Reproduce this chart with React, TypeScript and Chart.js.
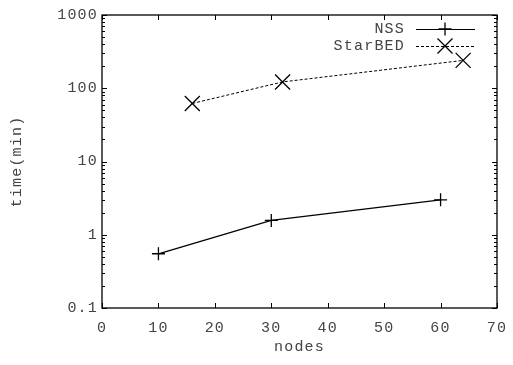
import React, { useEffect, useRef } from "react";
import { Chart, registerables } from "chart.js";

Chart.register(...registerables);

const nssNodes = [10, 30, 60];
const nssTime = [0.55, 1.57, 3.0];
const starNodes = [16, 32, 64];
const starTime = [62, 122, 240];
const xTicks = [0, 10, 20, 30, 40, 50, 60, 70];
const yDecades = [0.1, 1, 10, 100, 1000];
const seriesLabels = ["NSS", "StarBED"];

const FONT = "'Liberation Mono', 'Courier New', monospace";
const TXT = "#444";
const FS = 15;

const spacing = {
  id: "spacing",
  beforeDraw(chart: any) {
    chart.ctx.letterSpacing = "1.2px";
  },
};

const frame = {
  id: "frame",
  afterDatasetsDraw(chart: any) {
    const { ctx, chartArea: a, scales } = chart;
    const x = scales.x, y = scales.y;
    ctx.save();
    ctx.strokeStyle = "#000";
    ctx.lineWidth = 1;
    ctx.beginPath();
    for (const v of xTicks) {
      const px = Math.round(x.getPixelForValue(v)) + 0.5;
      ctx.moveTo(px, a.bottom); ctx.lineTo(px, a.bottom - 5);
      ctx.moveTo(px, a.top); ctx.lineTo(px, a.top + 5);
    }
    for (let d = 0; d < yDecades.length; d++) {
      const base = yDecades[d];
      for (let m = 1; m <= 9; m++) {
        const v = base * m;
        if (v > 1000.0001) break;
        const py = Math.round(y.getPixelForValue(v)) + 0.5;
        const len = m === 1 ? 5 : 3;
        ctx.moveTo(a.left, py); ctx.lineTo(a.left + len, py);
        ctx.moveTo(a.right, py); ctx.lineTo(a.right - len, py);
      }
    }
    ctx.stroke();
    ctx.lineWidth = 1.3;
    ctx.strokeRect(a.left, a.top, a.right - a.left, a.bottom - a.top);

    // legend
    const rows = [29, 46];
    chart.data.datasets.forEach((ds: any, i: number) => {
      const ly = rows[i];
      ctx.fillStyle = TXT;
      ctx.font = FS + "px " + FONT;
      ctx.textAlign = "right";
      ctx.textBaseline = "middle";
      ctx.fillText(ds.label, 405, ly);
      ctx.strokeStyle = "#000";
      ctx.lineWidth = 1;
      ctx.setLineDash(ds.borderDash || []);
      ctx.beginPath();
      ctx.moveTo(416, ly + 0.5); ctx.lineTo(475, ly + 0.5);
      ctx.stroke();
      ctx.setLineDash([]);
      ctx.lineWidth = 1.3;
      ctx.beginPath();
      const cx = 445;
      if (i === 0) {
        ctx.moveTo(cx - 6.5, ly); ctx.lineTo(cx + 6.5, ly);
        ctx.moveTo(cx, ly - 6.5); ctx.lineTo(cx, ly + 6.5);
      } else {
        const r = 7.5;
        ctx.moveTo(cx - r, ly - r); ctx.lineTo(cx + r, ly + r);
        ctx.moveTo(cx - r, ly + r); ctx.lineTo(cx + r, ly - r);
      }
      ctx.stroke();
    });
    ctx.restore();
  },
};

export default function App() {
  const ref = useRef<HTMLCanvasElement>(null);
  useEffect(() => {
    const chart = new Chart(ref.current!, {
      type: "line",
      data: {
        datasets: [
          {
            label: seriesLabels[0],
            data: nssNodes.map((n, i) => ({ x: n, y: nssTime[i] })),
            borderColor: "#000",
            backgroundColor: "#000",
            borderWidth: 1.3,
            pointStyle: "cross",
            pointRadius: 6.5,
            pointBorderWidth: 1.3,
            pointBorderColor: "#000",
            fill: false,
            tension: 0,
          },
          {
            label: seriesLabels[1],
            data: starNodes.map((n, i) => ({ x: n, y: starTime[i] })),
            borderColor: "#000",
            backgroundColor: "#000",
            borderWidth: 1,
            borderDash: [3, 2],
            pointStyle: "crossRot",
            pointRadius: 10.6,
            pointBorderWidth: 1.3,
            pointBorderColor: "#000",
            fill: false,
            tension: 0,
          },
        ],
      },
      options: {
        animation: false,
        responsive: false,
        events: [],
        layout: { padding: { top: 15, right: 16, left: 0, bottom: 0 } },
        plugins: { legend: { display: false }, tooltip: { enabled: false } },
        scales: {
          x: {
            type: "linear",
            min: 0,
            max: 70,
            grid: { display: false, drawTicks: false },
            border: { display: false },
            afterFit: (s: any) => { s.height = 57; s.paddingLeft = 0; s.paddingRight = 0; },
            afterBuildTicks: (s: any) => { s.ticks = xTicks.map((v) => ({ value: v })); },
            ticks: {
              padding: 11,
              color: TXT,
              font: { family: FONT, size: FS },
              maxRotation: 0,
              autoSkip: false,
            },
            title: {
              display: true,
              text: "nodes",
              color: TXT,
              font: { family: FONT, size: FS },
              padding: { top: 0, bottom: 9 },
            },
          },
          y: {
            type: "logarithmic",
            min: 0.1,
            max: 1000,
            grid: { display: false, drawTicks: false },
            border: { display: false },
            afterFit: (s: any) => { s.width = 102; s.paddingTop = 0; s.paddingBottom = 0; },
            afterBuildTicks: (s: any) => { s.ticks = yDecades.map((v) => ({ value: v })); },
            ticks: {
              padding: 4,
              color: TXT,
              font: { family: FONT, size: FS },
              autoSkip: false,
              callback: (v: any) => String(Number(v)),
            },
            title: {
              display: true,
              text: "time(min)",
              color: TXT,
              font: { family: FONT, size: FS },
              padding: { top: 8, bottom: 0 },
            },
          },
        },
      },
      plugins: [spacing, frame],
    });
    return () => chart.destroy();
  }, []);
  return (
    <div style={{ position: "absolute", left: 0, top: 0, width: 513, height: 365, background: "#fff" }}>
      <canvas ref={ref} width={513} height={365} />
    </div>
  );
}
